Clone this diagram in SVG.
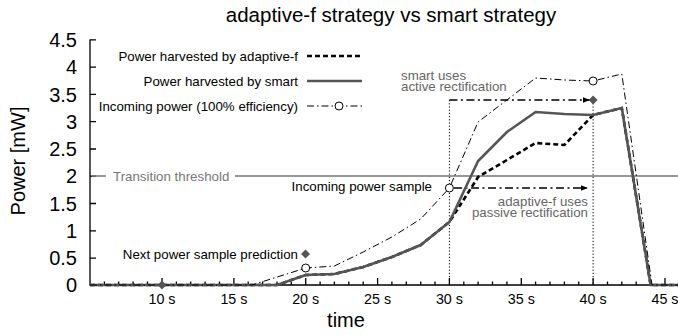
<svg xmlns="http://www.w3.org/2000/svg" width="678" height="335" viewBox="0 0 678 335">
<style>
text{font-family:"Liberation Sans",Arial,sans-serif;}
.tick{font-size:20px;text-anchor:end;fill:#000;}
.xt{font-size:14.3px;text-anchor:middle;fill:#000;}
.lbl{font-size:13.3px;fill:#000;}
.gl{font-size:13.3px;fill:#666;}
.ax{stroke:#000;stroke-width:1.3;fill:none;}
.smart{stroke:#555;stroke-width:2.6;fill:none;stroke-linejoin:miter;}
.adapt{stroke:#000;stroke-width:2.6;fill:none;stroke-dasharray:5,3;}
.inc{stroke:#000;stroke-width:1;fill:none;stroke-dasharray:7,3,1.5,3;}
.arr{stroke:#000;stroke-width:1.4;fill:none;stroke-dasharray:8,3.5,2,3.5;}
.dot{stroke:#000;stroke-width:1;fill:none;stroke-dasharray:1.2,2;}
.circ{fill:#fff;stroke:#000;stroke-width:1;}
.dia{fill:#555;}
</style>
<defs>
<marker id="ah" viewBox="0 0 10 8" refX="10" refY="4" markerWidth="7" markerHeight="5.6" markerUnits="userSpaceOnUse" orient="auto">
<path d="M0,0 L10,4 L0,8 z" fill="#000"/>
</marker>
</defs>
<text x="391" y="22" font-size="20.5" text-anchor="middle">adaptive-f strategy vs smart strategy</text>
<g id="axes">
<path class="ax" d="M90,39.5 V285 H678"/>
<path class="ax" d="M90,39.8 h6 M90,67.1 h6 M90,94.4 h6 M90,121.7 h6 M90,149 h6 M90,176.2 h6 M90,203.5 h6 M90,230.8 h6 M90,258.1 h6"/>
<path class="ax" d="M162,285 v-7 M233.9,285 v-7 M305.7,285 v-7 M377.6,285 v-7 M449.4,285 v-7 M521.3,285 v-7 M593.1,285 v-7 M665,285 v-7"/>
<path class="ax" d="M104.4,285 v-3.5 M118.7,285 v-3.5 M133.1,285 v-3.5 M147.5,285 v-3.5 M176.4,285 v-3.5 M190.7,285 v-3.5 M205.1,285 v-3.5 M219.5,285 v-3.5 M248.2,285 v-3.5 M262.6,285 v-3.5 M277,285 v-3.5 M291.3,285 v-3.5 M320.1,285 v-3.5 M334.4,285 v-3.5 M348.8,285 v-3.5 M363.2,285 v-3.5 M391.9,285 v-3.5 M406.3,285 v-3.5 M420.7,285 v-3.5 M435,285 v-3.5 M463.8,285 v-3.5 M478.1,285 v-3.5 M492.5,285 v-3.5 M506.9,285 v-3.5 M535.6,285 v-3.5 M550,285 v-3.5 M564.4,285 v-3.5 M578.7,285 v-3.5 M607.5,285 v-3.5 M621.8,285 v-3.5 M636.2,285 v-3.5 M650.6,285 v-3.5"/>
<text class="tick" x="77" y="47">4.5</text>
<text class="tick" x="77" y="74.3">4</text>
<text class="tick" x="77" y="101.6">3.5</text>
<text class="tick" x="77" y="128.9">3</text>
<text class="tick" x="77" y="156.2">2.5</text>
<text class="tick" x="77" y="183.4">2</text>
<text class="tick" x="77" y="210.7">1.5</text>
<text class="tick" x="77" y="238">1</text>
<text class="tick" x="77" y="265.3">0.5</text>
<text class="tick" x="77" y="292.2">0</text>
<text class="xt" x="162" y="304">10 s</text>
<text class="xt" x="233.9" y="304">15 s</text>
<text class="xt" x="305.7" y="304">20 s</text>
<text class="xt" x="377.6" y="304">25 s</text>
<text class="xt" x="449.4" y="304">30 s</text>
<text class="xt" x="521.3" y="304">35 s</text>
<text class="xt" x="593.1" y="304">40 s</text>
<text class="xt" x="665" y="304">45 s</text>
<text x="346" y="327" font-size="20" text-anchor="middle">time</text>
<text transform="translate(25,161) rotate(-90)" font-size="20" text-anchor="middle">Power [mW]</text>
</g>
<g id="threshold">
<path d="M92,176 H106 M235,176 H678" stroke="#777" stroke-width="1.4" fill="none"/>
<text class="gl" x="113" y="180.7" style="fill:#777">Transition threshold</text>
</g>
<g id="connectors">
<path class="dot" d="M449.4,100 V285 M593.1,100 V285"/>
<path class="arr" d="M449.4,100 H590" marker-end="url(#ah)"/>
<path class="arr" d="M454,188 H588" marker-end="url(#ah)"/>
</g>
<g id="series">
<polyline class="adapt" points="90,285 277,285 305.7,275 334.4,274 363.2,267 391.9,257 420.7,245 449.4,222 478.1,177 506.9,160 535.6,143 564.4,145 593.1,115 621.8,108 650.6,285 679,285"/>
<polyline class="smart" points="90,285 277,285 305.7,275 334.4,274 363.2,267 391.9,257 420.7,245 449.4,222 478.1,161 506.9,132 535.6,112 564.4,114 593.1,115 621.8,108 650.6,285 679,285"/>
<polyline class="inc" points="90,285 252,285 305.7,268 334.4,266 363.2,252 391.9,237 420.7,219 449.4,188 478.1,122 535.6,78 564.4,80 593.1,81 621.8,74 652,285 679,285"/>
</g>
<g id="markers">
<circle class="circ" cx="305.7" cy="268" r="4"/>
<circle class="circ" cx="449.4" cy="188" r="4"/>
<circle class="circ" cx="593.1" cy="81" r="4"/>
<path class="dia" d="M162,280.5 l4.5,4.5 l-4.5,4.5 l-4.5,-4.5 z"/>
<path class="dia" d="M305.5,249.5 l4.5,4.5 l-4.5,4.5 l-4.5,-4.5 z"/>
<path class="dia" d="M593.1,95.5 l4.5,4.5 l-4.5,4.5 l-4.5,-4.5 z"/>
</g>
<g id="legend">
<text class="lbl" x="298" y="61" text-anchor="end">Power harvested by adaptive-f</text>
<line class="adapt" x1="307" y1="56" x2="362" y2="56" stroke-width="1.5"/>
<text class="lbl" x="298" y="86" text-anchor="end">Power harvested by smart</text>
<line class="smart" x1="307" y1="81" x2="362" y2="81"/>
<text class="lbl" x="298" y="111" text-anchor="end">Incoming power (100% efficiency)</text>
<line class="inc" x1="307" y1="106" x2="362" y2="106"/>
<circle class="circ" cx="339" cy="106" r="4"/>
</g>
<g id="annotations">
<text class="gl" x="401" y="80">smart uses</text>
<text class="gl" x="401" y="91">active rectification</text>
<text class="gl" x="588" y="205.5" text-anchor="end">adaptive-f uses</text>
<text class="gl" x="588" y="216.5" text-anchor="end">passive rectification</text>
<text class="lbl" x="432" y="191" text-anchor="end">Incoming power sample</text>
<text class="lbl" x="298" y="258.5" text-anchor="end">Next power sample prediction</text>
</g>
</svg>
